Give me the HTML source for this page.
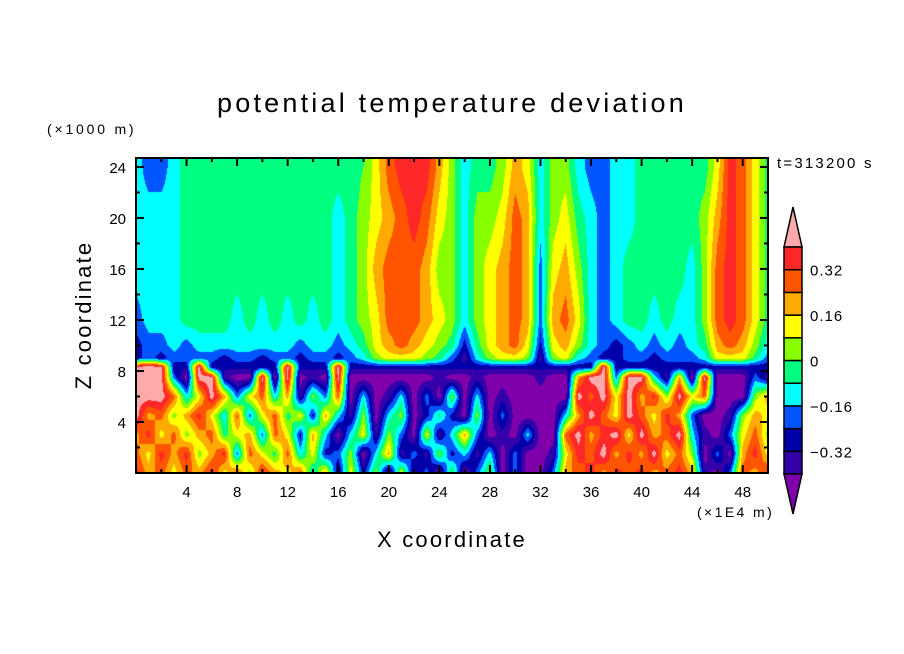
<!DOCTYPE html>
<html><head><meta charset="utf-8">
<style>
body{margin:0;background:#fff;}
#wrap{position:relative;width:904px;height:654px;overflow:hidden;background:#fff;font-family:"Liberation Sans",sans-serif;}
canvas{position:absolute;left:0;top:0;}
svg{position:absolute;left:0;top:0;}
</style></head>
<body>
<div id="wrap">
<canvas id="field" width="904" height="654"></canvas>
<svg id="ov" width="904" height="654">
<text x="452" y="112" text-anchor="middle" font-size="27" font-family="Liberation Sans, sans-serif" letter-spacing="3.2">potential temperature deviation</text>
<text x="47" y="134" font-size="14" letter-spacing="2.8">(×1000 m)</text>
<text x="777" y="168" font-size="15" letter-spacing="2.2">t=313200 s</text>
<text x="697" y="517" font-size="14" letter-spacing="2.4">(×1E4 m)</text>
<text x="452" y="547" text-anchor="middle" font-size="22" letter-spacing="2.2">X coordinate</text>
<text transform="translate(91,315) rotate(-90)" text-anchor="middle" font-size="22" letter-spacing="2.2">Z coordinate</text>
<g id="axes"></g>
<g id="cbar"></g>
</svg>
</div>
<script>
// data
const zLevels=[0,1.5,3,4.5,6,7.5,8.3,9,10,12,16,20,24];
const row0=[0.36,0.2,0.28,0.12,0.28,0.2,0.36,0.12,0.28,0.04,0.36,0.2,0.12,0.28,-0.12,0.2,-0.36,0.12,-0.28,0.04,-0.45,0.12,-0.36,-0.2,-0.45,0.04,-0.45,-0.2,0.04,-0.45,-0.2,-0.45,-0.45,-0.2,0.2,0.28,0.36,0.2,0.36,0.28,0.36,0.2,0.28,0.36,0.2,-0.36,-0.45,-0.2,0.28,0.2,0.36];
const row1p5=[0.28,0.12,0.36,0.2,0.36,0.04,0.2,0.36,-0.2,0.28,0.12,-0.04,0.28,-0.12,0.12,-0.28,-0.2,0.04,-0.45,-0.12,0.2,-0.36,-0.2,-0.36,0.04,-0.28,-0.12,-0.36,-0.12,-0.45,-0.2,-0.45,-0.45,-0.36,0.12,0.36,0.28,0.45,0.2,0.36,0.2,0.45,0.12,0.28,0.04,-0.45,-0.2,-0.45,0.2,0.36,0.12];
const row3=[0.2,0.36,0.12,0.28,0.04,0.2,0.28,-0.04,0.12,0.2,-0.2,0.28,0.12,-0.28,0.2,-0.12,-0.45,-0.12,0.12,-0.36,0.04,-0.2,-0.45,0.12,-0.36,-0.12,0.2,-0.2,-0.45,-0.36,-0.45,-0.12,-0.45,-0.45,0.28,0.45,0.2,0.36,0.45,0.12,0.45,0.2,0.28,0.45,-0.12,-0.36,-0.45,-0.2,0.12,0.28,0.04];
const row4p5=[0.45,0.2,0.28,0.04,0.2,0.36,0.12,-0.12,0.28,-0.2,0.12,0.28,-0.04,0.12,-0.28,0.2,-0.12,-0.36,0.04,-0.45,-0.12,0.04,-0.45,-0.28,-0.04,-0.28,-0.45,0.04,-0.45,-0.2,-0.45,-0.45,-0.45,-0.45,-0.12,0.2,0.45,0.28,0.12,0.45,0.28,0.12,0.36,0.2,-0.2,-0.45,-0.45,-0.36,0.04,0.2,0.12];
const row6=[0.45,0.45,0.45,0.28,-0.12,0.12,0.45,0.2,-0.2,0.12,0.28,-0.12,0.2,-0.36,0.04,-0.2,0.28,-0.45,-0.12,-0.45,-0.36,-0.12,-0.45,-0.2,-0.45,0.04,-0.45,-0.12,-0.45,-0.36,-0.45,-0.45,-0.45,-0.45,-0.45,0.45,0.28,0.45,0.12,0.45,0.2,0.36,0.04,0.45,0.12,0.28,-0.45,-0.45,-0.45,0.04,0.2];
const row7p5=[0.45,0.45,0.45,-0.2,-0.45,0.45,0.45,-0.36,-0.45,-0.45,0.45,-0.45,0.45,-0.45,-0.36,-0.45,0.45,-0.45,-0.45,-0.45,-0.45,-0.45,-0.45,-0.45,-0.36,-0.45,-0.45,-0.36,-0.45,-0.45,-0.45,-0.45,-0.36,-0.45,-0.45,0.2,0.45,0.45,-0.2,0.45,0.45,-0.12,-0.36,0.2,-0.45,0.45,-0.45,-0.45,-0.45,-0.2,-0.36];
const row8p3=[0.45,0.45,0.45,-0.3,-0.3,0.45,-0.3,-0.3,-0.3,-0.3,-0.3,-0.3,0.45,-0.3,-0.3,-0.3,0.45,-0.3,-0.3,-0.3,-0.3,-0.3,-0.3,-0.3,-0.3,-0.3,-0.3,-0.3,-0.3,-0.3,-0.3,-0.3,-0.3,-0.3,-0.3,-0.3,-0.3,0.45,-0.3,-0.3,-0.3,-0.3,-0.3,-0.3,-0.3,-0.3,-0.3,-0.3,-0.3,-0.3,-0.3];
const row9=[-0.28,-0.2,-0.28,-0.2,-0.2,-0.2,-0.2,-0.28,-0.2,-0.2,-0.28,-0.2,-0.2,-0.28,-0.2,-0.2,-0.28,-0.2,-0.12,0.04,0.12,0.12,0.12,0.04,-0.04,-0.2,-0.36,-0.12,0.04,0.12,0.12,0.04,-0.36,0.04,0.12,-0.12,-0.2,-0.28,-0.28,-0.2,-0.2,-0.28,-0.2,-0.2,-0.2,-0.12,0.12,0.12,0.12,-0.04,-0.2];
const row10=[-0.28,-0.2,-0.2,-0.12,-0.2,-0.12,-0.12,-0.12,-0.12,-0.12,-0.12,-0.12,-0.12,-0.2,-0.12,-0.12,-0.2,-0.12,-0.04,0.12,0.2,0.28,0.2,0.12,0.04,-0.04,-0.28,-0.04,0.12,0.2,0.28,0.12,-0.28,0.12,0.2,0.04,-0.12,-0.2,-0.28,-0.2,-0.12,-0.2,-0.12,-0.2,-0.12,-0.04,0.2,0.28,0.2,0.04,-0.12];
const row12=[-0.2,-0.12,-0.12,-0.12,-0.04,-0.04,-0.04,-0.04,-0.12,-0.04,-0.12,-0.04,-0.12,-0.04,-0.12,-0.04,-0.12,-0.04,0.04,0.12,0.28,0.28,0.28,0.2,0.12,0.04,-0.12,0.04,0.12,0.2,0.28,0.2,-0.2,0.2,0.28,0.12,-0.12,-0.2,-0.12,-0.04,-0.04,-0.12,-0.04,-0.12,-0.12,0.04,0.28,0.36,0.28,0.12,-0.04];
const row16=[-0.12,-0.12,-0.12,-0.12,-0.04,-0.04,-0.04,-0.04,-0.04,-0.04,-0.04,-0.04,-0.04,-0.04,-0.04,-0.04,-0.12,-0.04,0.04,0.2,0.28,0.28,0.28,0.2,0.04,0.04,-0.12,0.04,0.12,0.2,0.28,0.2,-0.2,0.12,0.2,0.04,-0.12,-0.2,-0.12,-0.04,-0.04,-0.04,-0.04,-0.04,-0.12,0.04,0.28,0.36,0.28,0.12,-0.04];
const row20=[-0.12,-0.12,-0.12,-0.12,-0.04,-0.04,-0.04,-0.04,-0.04,-0.04,-0.04,-0.04,-0.04,-0.04,-0.04,-0.04,-0.12,-0.04,0.04,0.12,0.2,0.28,0.36,0.28,0.12,0.04,-0.12,0.04,0.04,0.12,0.28,0.2,-0.12,0.04,0.12,-0.04,-0.12,-0.2,-0.12,-0.12,-0.04,-0.04,-0.04,-0.04,-0.04,0.04,0.2,0.36,0.28,0.12,-0.04];
const row24=[-0.12,-0.2,-0.2,-0.12,-0.04,-0.04,-0.04,-0.04,-0.04,-0.04,-0.04,-0.04,-0.04,-0.04,-0.04,-0.04,-0.04,-0.04,0.0,0.12,0.28,0.36,0.36,0.36,0.2,0.04,-0.12,-0.04,-0.04,0.04,0.2,0.12,-0.12,0.04,0.04,-0.12,-0.2,-0.2,-0.12,-0.12,-0.04,-0.04,-0.04,-0.04,-0.04,-0.04,0.12,0.36,0.28,0.12,-0.04];
const rows=[row0,row1p5,row3,row4p5,row6,row7p5,row8p3,row9,row10,row12,row16,row20,row24];
const levels=[-0.40,-0.32,-0.24,-0.16,-0.08,0,0.08,0.16,0.24,0.32,0.40];
const colors=["#7f00aa","#3300aa","#0000aa","#0055ff","#00ffff","#00ff80","#88ff00","#ffff00","#ffaa00","#ff5500","#ff2828","#ffaaaa"];
const cbarLabels=["0.32","0.16","0","\u22120.16","\u22120.32"];
const cbarLabelVals=[0.32,0.16,0,-0.16,-0.32];
const xTicks=[4,8,12,16,20,24,28,32,36,40,44,48];
const zTicks=[4,8,12,16,20,24];

// axes
const PL=136,PR=768,PT=158,PB=473,XMAX=50,ZMAX=24.7;
const xS=u=>PL+u*(PR-PL)/XMAX;
const zS=z=>PB-z*(PB-PT)/ZMAX;
const xInv=px=>(px-PL)*XMAX/(PR-PL);
const zInv=py=>(PB-py)*ZMAX/(PB-PT);
function hex(c){return [parseInt(c.slice(1,3),16),parseInt(c.slice(3,5),16),parseInt(c.slice(5,7),16)];}
const rgb=colors.map(hex);
function sample(u,z){
  let k=0;while(k<zLevels.length-2&&z>zLevels[k+1])k++;
  let t=(z-zLevels[k])/(zLevels[k+1]-zLevels[k]);t=Math.max(0,Math.min(1,t));
  let i=Math.floor(u);if(i>=XMAX)i=XMAX-1;if(i<0)i=0;const s=u-i;
  const a=rows[k][i]*(1-s)+rows[k][i+1]*s;
  const b=rows[k+1][i]*(1-s)+rows[k+1][i+1]*s;
  return a*(1-t)+b*t;
}
const cv=document.getElementById('field');const ctx=cv.getContext('2d');
const img=ctx.createImageData(PR-PL,PB-PT);
for(let py=PT;py<PB;py++){for(let px=PL;px<PR;px++){
  const v=sample(xInv(px+0.5),zInv(py+0.5));
  let ci=0;while(ci<levels.length&&v>=levels[ci])ci++;
  const c=rgb[ci];const o=((py-PT)*(PR-PL)+(px-PL))*4;
  img.data[o]=c[0];img.data[o+1]=c[1];img.data[o+2]=c[2];img.data[o+3]=255;}}
ctx.putImageData(img,PL,PT);

const NS='http://www.w3.org/2000/svg';
function mk(tag,attrs,parent){const e=document.createElementNS(NS,tag);for(const k in attrs)e.setAttribute(k,attrs[k]);parent.appendChild(e);return e;}
const ax=document.getElementById('axes');
const frame=mk('rect',{x:PL,y:PT,width:PR-PL,height:PB-PT,fill:'none',stroke:'#000','stroke-width':2},ax);


for(let u=2;u<XMAX;u+=2){const L=(u%4===0)?8:4;
  const t1=mk('line',{x1:xS(u),x2:xS(u),y1:PB,y2:PB-L,stroke:'#000','stroke-width':2},ax);
  
  
  const t2=mk('line',{x1:xS(u),x2:xS(u),y1:PT,y2:PT+L,stroke:'#000','stroke-width':2},ax);
  
  }
for(let z=2;z<ZMAX;z+=2){const L=(z%4===0)?8:4;
  const t1=mk('line',{x1:PL,x2:PL+L,y1:zS(z),y2:zS(z),stroke:'#000','stroke-width':2},ax);
  
  
  const t2=mk('line',{x1:PR,x2:PR-L,y1:zS(z),y2:zS(z),stroke:'#000','stroke-width':2},ax);
  
  }
xTicks.forEach(u=>{const t=mk('text',{x:xS(u),y:497,'text-anchor':'middle','font-size':15},ax);t.textContent=u;
  
  });
zTicks.forEach(z=>{const t=mk('text',{x:126,y:zS(z)+6,'text-anchor':'end','font-size':15},ax);t.textContent=z;
  
  });

// colorbar
const cb=document.getElementById('cbar');
const CX0=784,CX1=802,CT=247,CH=22.7;
const cY=v=>CT+(0.40-v)/0.08*CH;
const up=mk('polygon',{points:`${CX0},${CT} ${CX1},${CT} ${(CX0+CX1)/2},207`,fill:colors[11],stroke:'#000','stroke-width':1.5},cb);


for(let i=0;i<levels.length-1;i++){
  const r=mk('rect',{x:CX0,y:cY(levels[i+1]),width:CX1-CX0,height:cY(levels[i])-cY(levels[i+1]),fill:colors[i+1],stroke:'#000','stroke-width':1.5},cb);
  
  }
const bot=cY(levels[0]);
const dn=mk('polygon',{points:`${CX0},${bot} ${CX1},${bot} ${(CX0+CX1)/2},${bot+40}`,fill:colors[0],stroke:'#000','stroke-width':1.5},cb);


cbarLabels.forEach((s,i)=>{const t=mk('text',{x:810,y:cY(cbarLabelVals[i])+6,'font-size':15,'letter-spacing':1},cb);t.textContent=s;
  
  });
</script>
</body></html>
